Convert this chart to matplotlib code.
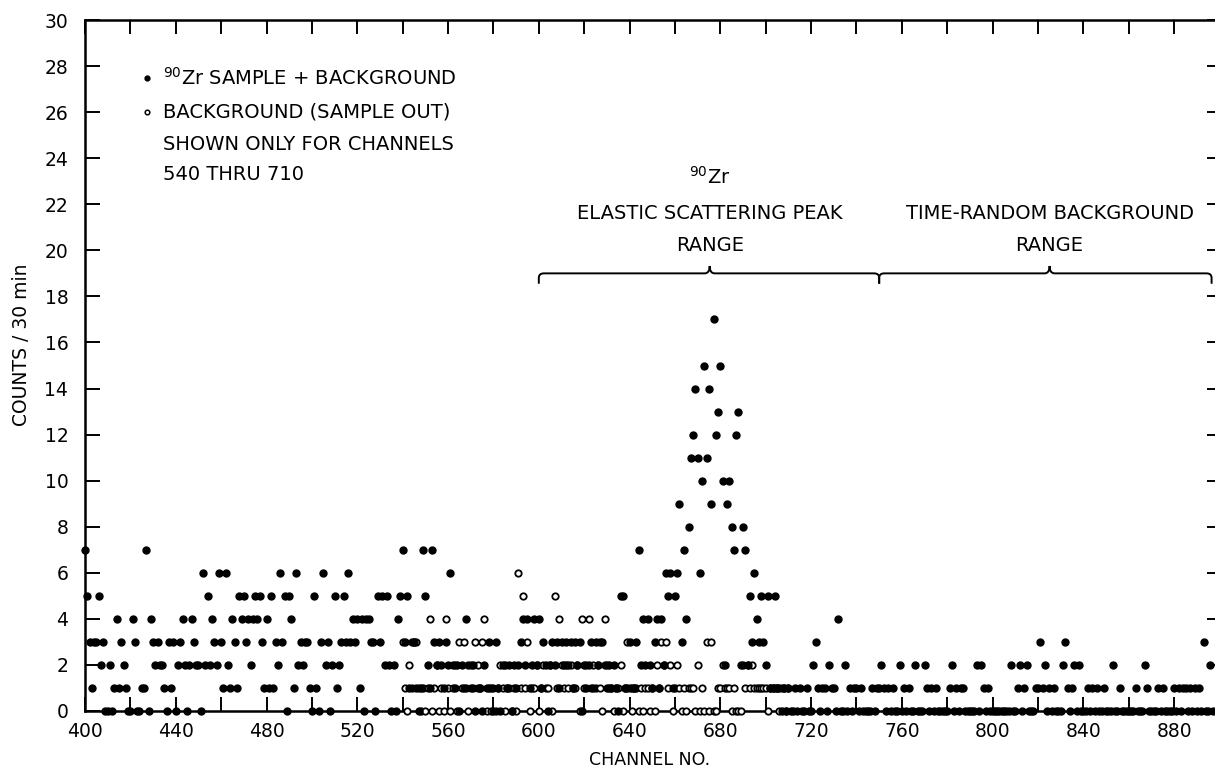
import matplotlib
matplotlib.use("Agg")
import matplotlib.pyplot as plt
from matplotlib.path import Path
from matplotlib.patches import PathPatch
from matplotlib.ticker import MultipleLocator
import numpy as np

# 90Zr sample + background, one value per channel, channels 400..897
sample_400 = [7, 5, 3, 1, 3, 3, 5, 2, 3, 0, 0, 2, 0, 1, 4, 1, 3, 2, 1, 0,
              0, 4, 3, 0, 0, 1, 1, 7, 0, 4, 3, 2, 3, 2, 2, 1, 0, 3, 1, 3,
              0, 2, 3, 4, 2, 0, 2, 4, 3, 2]
sample_450 = [2, 0, 6, 2, 5, 2, 4, 3, 2, 6, 3, 1, 6, 2, 1, 4, 3, 1, 5, 4,
              5, 3, 4, 2, 4, 5, 4, 5, 3, 1, 4, 1, 5, 1, 3, 2, 6, 3, 5, 0,
              5, 4, 1, 6, 2, 3, 2, 3, 3, 1]
sample_500 = [0, 5, 1, 0, 3, 6, 2, 3, 0, 2, 5, 1, 2, 3, 5, 3, 6, 3, 4, 3,
              4, 1, 4, 0, 4, 4, 3, 3, 0, 5, 3, 5, 2, 5, 2, 0, 2, 0, 4, 5,
              7, 3, 5, 1, 3, 3, 1, 0, 1, 7]
sample_550 = [5, 2, 1, 7, 3, 2, 3, 2, 1, 3, 2, 6, 2, 1, 2, 0, 2, 1, 4, 2,
              1, 2, 0, 1, 1, 0, 2, 1, 3, 1, 0, 3, 1, 0, 2, 2, 1, 2, 0, 2,
              1, 2, 3, 4, 2, 4, 1, 2, 4, 2]
sample_600 = [4, 1, 3, 2, 0, 2, 3, 2, 3, 1, 3, 2, 3, 2, 3, 1, 3, 2, 3, 0,
              2, 1, 2, 3, 1, 3, 2, 3, 3, 2, 1, 2, 1, 2, 1, 0, 5, 5, 1, 1,
              3, 1, 1, 3, 7, 2, 4, 2, 4, 2]
sample_650 = [1, 3, 4, 1, 4, 2, 6, 5, 6, 1, 5, 6, 9, 3, 7, 4, 8, 11, 12, 14,
              11, 6, 10, 15, 11, 14, 9, 17, 12, 13, 15, 10, 2, 9, 10, 8, 7, 12, 13, 2,
              8, 7, 2, 5, 3, 6, 4, 3, 5, 3]
sample_700 = [2, 5, 1, 1, 5, 1, 1, 0, 1, 0, 1, 0, 0, 1, 0, 1, 0, 0, 1, 0,
              0, 2, 3, 1, 0, 1, 1, 0, 2, 1, 1, 0, 4, 0, 0, 2, 0, 1, 0, 1,
              1, 0, 1, 0, 0, 0, 0, 1, 0, 1]
sample_750 = [1, 2, 1, 0, 1, 0, 1, 0, 0, 2, 0, 1, 0, 1, 0, 0, 2, 0, 0, 0,
              2, 1, 0, 1, 0, 1, 0, 0, 0, 0, 0, 1, 2, 0, 1, 0, 1, 1, 0, 0,
              0, 0, 0, 2, 0, 2, 1, 0, 1, 0]
sample_800 = [0, 0, 0, 0, 0, 0, 0, 0, 2, 0, 0, 1, 2, 0, 1, 2, 0, 0, 0, 1,
              1, 3, 1, 2, 0, 1, 0, 1, 0, 0, 0, 2, 3, 1, 0, 1, 2, 0, 2, 0,
              0, 0, 1, 0, 1, 0, 1, 0, 0, 1]
sample_850 = [0, 0, 0, 2, 0, 0, 1, 0, 0, 0, 0, 0, 0, 1, 0, 0, 0, 2, 1, 0,
              0, 0, 0, 1, 0, 1, 0, 0, 0, 0, 1, 0, 1, 0, 1, 1, 0, 1, 0, 1,
              0, 1, 0, 3, 0, 0, 2, 0]

# background (sample out), channels 540..710
backgr_540 = [3, 1, 0, 2, 1, 3, 3, 1, 0, 1, 0, 1, 4, 0, 1, 2, 0, 1, 0, 4,
              1, 0, 1, 2, 0, 3, 1, 3, 1, 0, 2, 1, 3, 2, 1, 3, 4, 0, 1, 0,
              1, 0, 1, 2, 1, 0, 1, 1, 0, 1]
backgr_590 = [0, 6, 1, 5, 1, 3, 0, 1, 1, 2, 0, 1, 2, 1, 1, 2, 0, 5, 1, 4,
              2, 1, 2, 1, 2, 1, 1, 2, 0, 4, 1, 2, 4, 1, 2, 1, 2, 1, 0, 4,
              2, 1, 1, 0, 1, 1, 2, 0, 1, 3]
backgr_640 = [1, 0, 1, 1, 0, 1, 0, 1, 1, 0, 1, 0, 2, 1, 3, 2, 3, 1, 2, 0,
              1, 2, 1, 0, 1, 0, 1, 1, 1, 0, 2, 0, 1, 0, 3, 0, 3, 0, 0, 1,
              1, 2, 1, 1, 1, 0, 1, 0, 0, 0]
backgr_690 = [2, 1, 2, 1, 2, 1, 1, 1, 1, 1, 1, 0, 1, 1, 1, 1, 0, 1, 1, 0, 1]

sample = np.concatenate([sample_400, sample_450, sample_500, sample_550,
                         sample_600, sample_650, sample_700, sample_750,
                         sample_800, sample_850])
sample_ch = np.arange(400, 400 + len(sample))
backgr = np.concatenate([backgr_540, backgr_590, backgr_640, backgr_690])
backgr_ch = np.arange(540, 540 + len(backgr))


def brace(ax, x0, xm, x1, y, h_end=0.45, h_tip=0.32, r=2.2):
    verts = [(x0, y - h_end), (x0, y - 0.2), (x0, y), (x0 + r, y),
             (xm - r, y), (xm, y), (xm, y + h_tip),
             (xm, y), (xm + r, y), (x1 - r, y),
             (x1, y), (x1, y - 0.2), (x1, y - h_end)]
    codes = [Path.MOVETO, Path.LINETO, Path.CURVE3, Path.CURVE3,
             Path.LINETO, Path.CURVE3, Path.CURVE3,
             Path.CURVE3, Path.CURVE3, Path.LINETO,
             Path.CURVE3, Path.CURVE3, Path.LINETO]
    ax.add_patch(PathPatch(Path(verts, codes), fill=False, lw=1.4,
                           color='black', clip_on=False))


plt.rcParams['font.family'] = 'DejaVu Sans'
fig = plt.figure(figsize=(12.15, 7.76), dpi=100)
ax = fig.add_axes([85 / 1215, 65 / 776, 1130 / 1215, 691 / 776])

ax.plot(backgr_ch, backgr, 'o', ms=4.6, mfc='white', mec='black', mew=1.3,
        ls='none', clip_on=False, zorder=3)
ax.plot(sample_ch, sample, 'o', ms=5.0, color='black', ls='none',
        clip_on=False, zorder=4)

ax.set_xlim(400, 898)
ax.set_ylim(0, 30)
ax.xaxis.set_major_locator(MultipleLocator(40))
ax.xaxis.set_minor_locator(MultipleLocator(20))
ax.yaxis.set_major_locator(MultipleLocator(2))
ax.tick_params(axis='x', which='both', direction='in', length=10, width=1.4,
               top=True, labelsize=13.5, pad=8)
ax.tick_params(axis='y', which='both', direction='in', length=11, width=1.4,
               labelsize=13.5, pad=12)
for s in ['left', 'bottom', 'top']:
    ax.spines[s].set_linewidth(1.8)
ax.spines['right'].set_visible(False)

sec = ax.secondary_yaxis('right')
sec.yaxis.set_major_locator(MultipleLocator(2))
sec.tick_params(direction='in', length=6, width=1.4, labelright=False)
sec.spines['right'].set_visible(False)

ax.set_xlabel('CHANNEL NO.', fontsize=12.5, labelpad=7)
fig.text(22 / 1215, 1 - 345 / 776, 'COUNTS / 30 min', rotation=90,
         fontsize=13.5, ha='center', va='center')

# legend block
ax.plot([427.3], [27.5], 'o', ms=3.5, color='black')
ax.plot([427.3], [26.0], 'o', ms=3.3, mfc='white', mec='black', mew=1.1)
leg_kw = dict(fontsize=14, ha='left', va='center')
ax.text(434.5, 27.5, r'$^{90}$Zr SAMPLE + BACKGROUND', **leg_kw)
ax.text(434.5, 26.0, 'BACKGROUND (SAMPLE OUT)', **leg_kw)
ax.text(434.5, 24.6, 'SHOWN ONLY FOR CHANNELS', **leg_kw)
ax.text(434.5, 23.3, '540 THRU 710', **leg_kw)

# range annotations
ax.text(675.3, 23.2, r'$^{90}$Zr', fontsize=14, ha='center', va='center')
ax.text(675.3, 21.6, 'ELASTIC SCATTERING PEAK', fontsize=14, ha='center', va='center')
ax.text(675.3, 20.2, 'RANGE', fontsize=14, ha='center', va='center')
ax.text(825.1, 21.6, 'TIME-RANDOM BACKGROUND', fontsize=14, ha='center', va='center')
ax.text(825.1, 20.2, 'RANGE', fontsize=14, ha='center', va='center')
brace(ax, 600, 675.3, 750, 19.0)
brace(ax, 750, 825.1, 896.5, 19.0)

fig.savefig('out.png', dpi=100)
